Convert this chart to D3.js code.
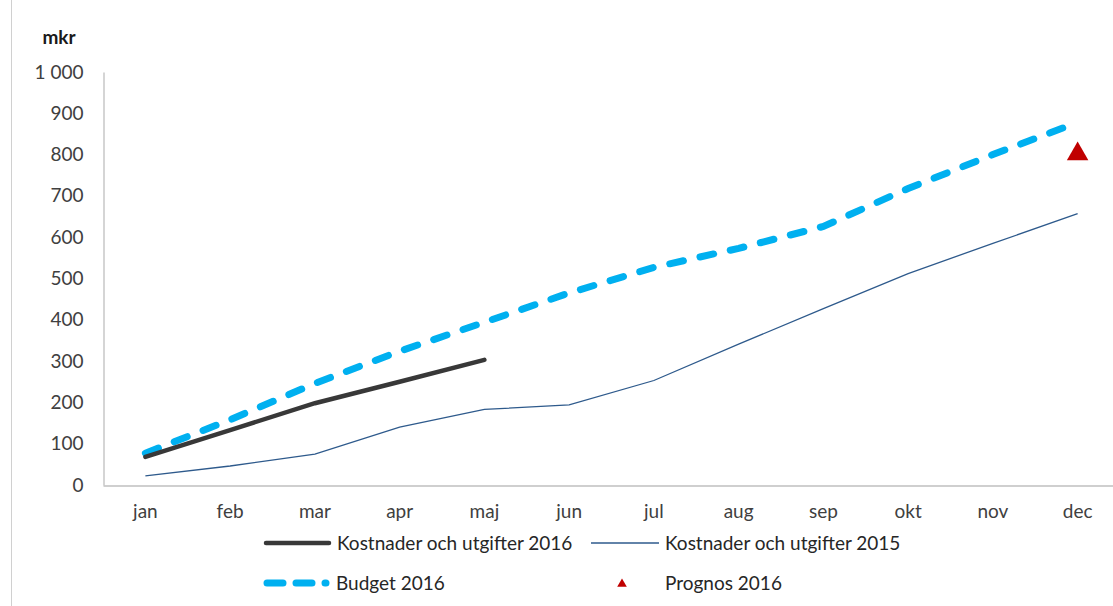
<!DOCTYPE html>
<html><head><meta charset="utf-8">
<script src="https://cdn.jsdelivr.net/npm/d3@7"></script>
<style>
html,body{margin:0;padding:0;background:#fff;}
svg{display:block;font-family:Lato,"Open Sans",sans-serif;}
</style></head>
<body>
<svg id="c" width="1113" height="606"></svg>
<script>
const months = ["jan","feb","mar","apr","maj","jun","jul","aug","sep","okt","nov","dec"];
const kostnader2016 = [68, 133, 198, 250, 303];
const kostnader2015 = [22, 46, 75, 140, 183, 194, 253, 341, 427, 512, 585, 657];
const budget2016 = [77, 158, 246, 324, 394, 465, 527, 573, 626, 718, 800, 878];
const prognos2016 = [{month:"dec", value:804}];
const yTicks = [0,100,200,300,400,500,600,700,800,900,1000];
const seriesNames = ["Kostnader och utgifter 2016","Kostnader och utgifter 2015","Budget 2016","Prognos 2016"];

const svg = d3.select("#c");
const x = d3.scaleBand().domain(months).range([103, 1120]);
const y = d3.scaleLinear().domain([0,1000]).range([485, 72]);
const cx = m => x(m) + x.bandwidth()/2;
const txt = "#404040";
const fs = "19px";

// chart border (left edge)
svg.append("line").attr("x1",11.5).attr("x2",11.5).attr("y1",0).attr("y2",606).attr("stroke","#d0d0d0").attr("stroke-width",1);

// y axis
const yAxis = d3.axisLeft(y).tickValues(yTicks).tickSize(0).tickPadding(20)
  .tickFormat(d => d3.format(",")(d).replace(",", " "));
const gy = svg.append("g").attr("transform","translate(103.5,0)").call(yAxis);
gy.select(".domain").attr("stroke","#bfbfbf").attr("stroke-width",1.3);
gy.selectAll("text").attr("fill",txt).style("font-size",fs).attr("font-family","Lato,sans-serif");

// x axis
const xAxis = d3.axisBottom(x).tickSize(0).tickPadding(19);
const gx = svg.append("g").attr("transform","translate(0,485.5)").call(xAxis);
gx.select(".domain").attr("stroke","#bfbfbf").attr("stroke-width",1.3);
gx.selectAll("text").attr("fill",txt).style("font-size",fs).attr("font-family","Lato,sans-serif");

// unit label
svg.append("text").attr("x",59).attr("y",44).attr("text-anchor","middle")
  .attr("font-weight","bold").attr("font-size","19px").attr("fill","#1a1a1a").text("mkr");

const line = d3.line().x((d,i)=>cx(months[i])).y(d=>y(d));

// 2015
svg.append("path").datum(kostnader2015).attr("d",line).attr("fill","none")
  .attr("stroke","#2E5A8C").attr("stroke-width",1.3);
// budget
svg.append("path").datum(budget2016).attr("d",line).attr("fill","none")
  .attr("stroke","#00B0F0").attr("stroke-width",7).attr("stroke-linecap","round")
  .attr("stroke-dasharray","14,17");
// 2016
svg.append("path").datum(kostnader2016).attr("d",line).attr("fill","none")
  .attr("stroke","#383838").attr("stroke-width",4.5).attr("stroke-linecap","round");
// prognos
svg.selectAll(".prog").data(prognos2016).enter().append("path")
  .attr("d", d3.symbol().type(d3.symbolTriangle).size(200))
  .attr("transform", d=>`translate(${cx(d.month)},${y(d.value)+1})`)
  .attr("fill","#C00000");

// legend
const lg = svg.append("g").attr("font-size",fs).attr("fill","#262626");
lg.append("line").attr("x1",266).attr("x2",329).attr("y1",543).attr("y2",543)
  .attr("stroke","#383838").attr("stroke-width",4.5).attr("stroke-linecap","round");
lg.append("text").attr("x",337).attr("y",550).text(seriesNames[0]);
lg.append("line").attr("x1",591).attr("x2",659).attr("y1",543).attr("y2",543)
  .attr("stroke","#2E5A8C").attr("stroke-width",1.3);
lg.append("text").attr("x",665).attr("y",550).text(seriesNames[1]);
lg.append("line").attr("x1",267).attr("x2",326).attr("y1",583).attr("y2",583)
  .attr("stroke","#00B0F0").attr("stroke-width",7).attr("stroke-linecap","round")
  .attr("stroke-dasharray","16,13");
lg.append("text").attr("x",336).attr("y",590).text(seriesNames[2]);
lg.append("path").attr("d", d3.symbol().type(d3.symbolTriangle).size(40))
  .attr("transform","translate(622,584)").attr("fill","#C00000");
lg.append("text").attr("x",665).attr("y",590).text(seriesNames[3]);
</script>
</body></html>
